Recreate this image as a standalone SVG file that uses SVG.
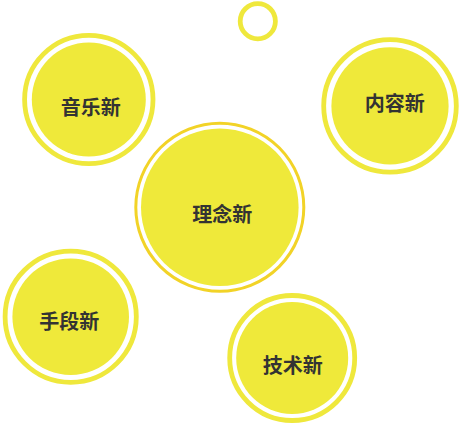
<svg xmlns="http://www.w3.org/2000/svg" width="463" height="428" viewBox="0 0 463 428">
<style>
.fill{fill:#efe93a}
.ring{fill:none;stroke:#efe83c;stroke-width:4.8}
.ring-main{fill:none;stroke:#f2d327;stroke-width:3}
.lbl{font-family:"Noto Sans CJK SC","Noto Sans CJK TC",sans-serif;font-size:20px;font-weight:700;fill:#333333;text-anchor:middle;dominant-baseline:central}
</style>
<rect width="463" height="428" fill="#ffffff"/>
<g id="dot">
<circle class="ring" cx="257.8" cy="21.2" r="17.6"/>
</g>
<g id="music">
<circle class="ring" cx="88.8" cy="99.5" r="64.2"/>
<circle class="fill" cx="88.8" cy="99.5" r="57"/>
<text class="lbl" x="90.7" y="106.2">音乐新</text>
</g>
<g id="content">
<circle class="ring" cx="390" cy="105.9" r="66.3"/>
<circle class="fill" cx="390" cy="105.9" r="58.6"/>
<text class="lbl" x="394.8" y="102">内容新</text>
</g>
<g id="idea">
<circle class="ring-main" cx="219.8" cy="207.2" r="84"/>
<circle class="fill" cx="219.8" cy="207.2" r="78.8"/>
<text class="lbl" x="222.2" y="213">理念新</text>
</g>
<g id="means">
<circle class="ring" cx="70.7" cy="316.7" r="65.6"/>
<circle class="fill" cx="70.7" cy="316.7" r="58.3"/>
<text class="lbl" x="69.3" y="320.3">手段新</text>
</g>
<g id="tech">
<circle class="ring" cx="292.2" cy="358" r="62.5"/>
<circle class="fill" cx="292.2" cy="358" r="56"/>
<text class="lbl" x="292.7" y="364.7">技术新</text>
</g>
<g id="connectors"></g>
</svg>
